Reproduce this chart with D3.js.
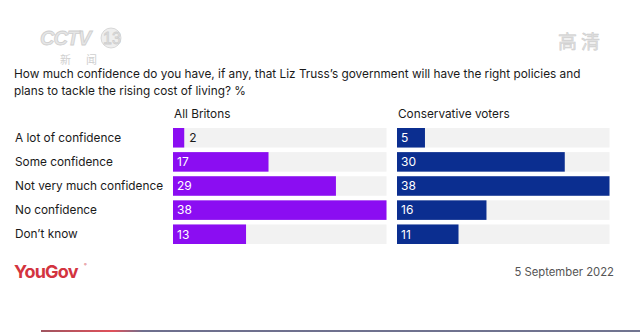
<!DOCTYPE html>
<html><head><meta charset="utf-8">
<script src="https://cdn.jsdelivr.net/npm/d3@7"></script>
<style>
html,body{margin:0;padding:0;background:#fff;}
svg{display:block;font-family:Inter,"Open Sans",sans-serif;}
</style></head>
<body>
<svg id="c" width="640" height="332"></svg>
<script>
const categories = ["A lot of confidence","Some confidence","Not very much confidence","No confidence","Don\u2019t know"];
const allBritons = [2,17,29,38,13];
const conservativeVoters = [5,30,38,16,11];
const seriesNames = ["All Britons","Conservative voters"];
const titleLines = ["How much confidence do you have, if any, that Liz Truss\u2019s government will have the right policies and","plans to tackle the rising cost of living? %"];
const dateLabel = "5 September 2022";

const svg = d3.select("#c");
const FONT = "Inter, 'Open Sans', sans-serif";

// watermarks
const wm = svg.append("g").attr("fill","#e6e6e6").attr("stroke","#cfcfcf").attr("stroke-width",0.8);
wm.append("text").attr("x",40).attr("y",45).attr("font-size",20).attr("font-weight",700)
  .attr("font-style","italic").attr("letter-spacing",-1).attr("font-family","Liberation Sans, Arial").text("CCTV");
wm.append("circle").attr("cx",111).attr("cy",38).attr("r",10).attr("fill","#eeeeee");
wm.append("text").attr("x",103).attr("y",44).attr("font-size",16).attr("font-family","Liberation Sans, Arial").text("13");
wm.append("text").attr("x",60).attr("y",64).attr("font-size",11).attr("stroke","none").attr("fill","#cfcfcf")
  .attr("font-family","'Noto Sans CJK SC'").attr("letter-spacing",15).text("新闻");
svg.append("text").attr("x",558).attr("y",49).attr("font-size",19).attr("fill","#e0e0e0")
  .attr("stroke","#cccccc").attr("stroke-width",0.5)
  .attr("font-family","'Noto Sans CJK SC'").attr("letter-spacing",4).text("高清");

// title
const title = svg.append("g").attr("fill","#1a1a1a");
const t1 = title.append("text").attr("x",14).attr("y",78).attr("font-size",13).text(titleLines[0]);
const w = t1.node().getComputedTextLength();
const fs = 13 * 567 / w;
t1.attr("font-size",fs);
title.append("text").attr("x",14).attr("y",95).attr("font-size",fs).text(titleLines[1]);

// scales
const y = d3.scaleBand().domain(categories).range([128,244]).paddingInner(0.19).paddingOuter(0);
const maxV = 38;
const panels = [
  {name:seriesNames[0], values:allBritons, x0:173, x1:386.5, color:"#8b0df2"},
  {name:seriesNames[1], values:conservativeVoters, x0:397, x1:609.5, color:"#0b2e90"}
];

// category labels
svg.append("g").selectAll("text").data(categories).join("text")
  .attr("x",15).attr("y",d=>y(d)+y.bandwidth()/2).attr("dy","0.36em")
  .attr("font-size",11.8).attr("fill","#1a1a1a").text(d=>d);

panels.forEach(p=>{
  const x = d3.scaleLinear().domain([0,maxV]).range([p.x0,p.x1]);
  const g = svg.append("g");
  g.append("text").attr("x",p.x0+1).attr("y",118).attr("font-size",11.8).attr("fill","#1a1a1a").text(p.name);
  const data = categories.map((c,i)=>({c, v:p.values[i]}));
  g.selectAll("rect.bg").data(data).join("rect").attr("class","bg")
    .attr("x",x(0)).attr("y",d=>y(d.c)).attr("width",x(maxV)-x(0)).attr("height",y.bandwidth()).attr("fill","#f2f2f2");
  g.selectAll("rect.bar").data(data).join("rect").attr("class","bar")
    .attr("x",x(0)).attr("y",d=>y(d.c)).attr("width",d=>x(d.v)-x(0)).attr("height",y.bandwidth()).attr("fill",p.color);
  g.selectAll("text.val").data(data).join("text").attr("class","val")
    .attr("x",d=> (x(d.v)-x(0) > 20) ? x(0)+4 : x(d.v)+5)
    .attr("y",d=>y(d.c)+y.bandwidth()/2).attr("dy","0.36em")
    .attr("font-size",12)
    .attr("fill",d=> (x(d.v)-x(0) > 20) ? "#ffffff" : "#1a1a1a")
    .text(d=>d.v);
});

// footer
svg.append("text").attr("x",14).attr("y",278).attr("font-size",18).attr("font-weight",700)
  .attr("letter-spacing",-0.8).attr("fill","#d3343f").attr("font-family",FONT).text("YouGov");
svg.append("text").attr("x",84).attr("y",266).attr("font-size",4).attr("fill","#d3343f").text("®");
svg.append("text").attr("x",614).attr("y",276).attr("text-anchor","end").attr("font-size",11.3)
  .attr("fill","#555").text(dateLabel);

// bottom line
const defs = svg.append("defs");
const lg = defs.append("linearGradient").attr("id","bl").attr("x1","0").attr("x2","1");
lg.append("stop").attr("offset","0").attr("stop-color","#a05560");
lg.append("stop").attr("offset","0.12").attr("stop-color","#e0505a");
lg.append("stop").attr("offset","0.17").attr("stop-color","#6e6f8e");
lg.append("stop").attr("offset","1").attr("stop-color","#707490");
svg.append("rect").attr("x",41).attr("y",330).attr("width",599).attr("height",2).attr("fill","url(#bl)");
</script>
</body></html>
